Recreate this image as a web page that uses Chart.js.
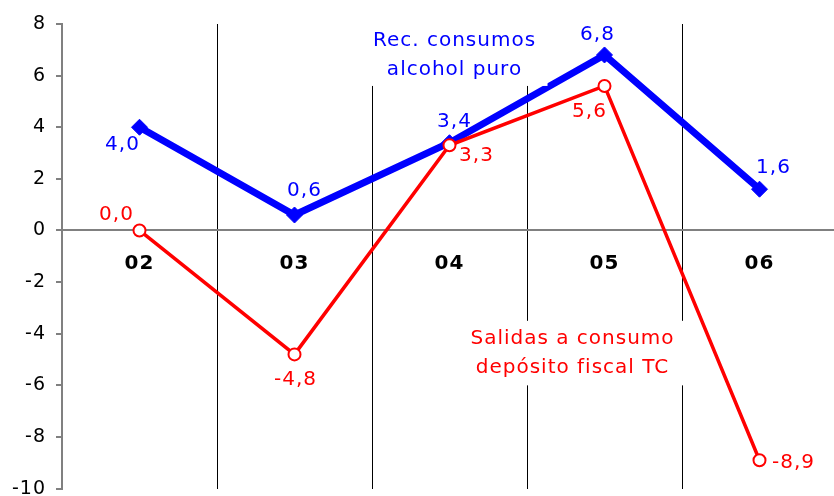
<!DOCTYPE html>
<html>
<head>
<meta charset="utf-8">
<script src="https://cdn.jsdelivr.net/npm/chart.js@4/dist/chart.umd.min.js"></script>
<style>
    html, body { margin: 0; padding: 0; background: #fff; overflow: hidden; }
    #wrap { width: 840px; height: 510px; }
</style>
</head>
<body>
<div id="wrap"><canvas id="myChart" width="840" height="510"></canvas></div>
<script>
// datos
const categorias = ['02', '03', '04', '05', '06'];
const recConsumos = [4.0, 0.6, 3.4, 6.8, 1.6];
const salidasConsumo = [0.0, -4.8, 3.3, 5.6, -8.9];
const yMin = -10;
const yMax = 8;
const yStep = 2;

const nombreRec = ['Rec. consumos', 'alcohol puro'];
const nombreSalidas = ['Salidas a consumo', 'depósito fiscal TC'];

const AZUL = '#0000ff';
const ROJO = '#ff0000';
const FUENTE = '"DejaVu Sans", Verdana, sans-serif';

function fmt(v) {
    return v.toFixed(1).replace('.', ',');
}

// where each value label sits relative to its point (px)
const offsetsRec = [[-17, 18], [10, -24], [5, -21], [-7, -20], [14, -21]];
const offsetsSal = [[-23, -16], [1, 25], [27, 10], [-15, 26], [34, 3]];

const extrasPlugin = {
    id: 'extras',
    beforeDraw(chart) {
        chart.ctx.letterSpacing = '1px';
    },
    afterDatasetsDraw(chart) {
        const ctx = chart.ctx;
        const x = chart.scales.x;
        const y = chart.scales.y;
        ctx.save();
        ctx.letterSpacing = '1px';

        // category labels right under the zero line
        ctx.fillStyle = '#000';
        ctx.font = 'bold 20px ' + FUENTE;
        ctx.textAlign = 'center';
        ctx.textBaseline = 'middle';
        categorias.forEach((c, i) => {
            ctx.fillText(c, x.getPixelForValue(i), y.getPixelForValue(0) + 33);
        });

        // series name boxes (white background hides the lines behind)
        function caja(lines, cx, topVal, x0, x1, y0, y1, color) {
            ctx.fillStyle = '#fff';
            ctx.fillRect(x0, y0, x1 - x0, y1 - y0);
            ctx.fillStyle = color;
            ctx.font = '20px ' + FUENTE;
            ctx.textAlign = 'center';
            const top = y.getPixelForValue(topVal);
            lines.forEach((l, k) => ctx.fillText(l, cx, top + k * 29));
        }
        const c3 = x.getPixelForValue(2);
        caja(nombreRec, c3 + 5, 7.35, c3 - 85, c3 + 98, y.getPixelForValue(yMax), y.getPixelForValue(5.6), AZUL);
        const c4 = x.getPixelForValue(3);
        caja(nombreSalidas, c4 - 32, -4.2, c4 - 142, c4 + 79, y.getPixelForValue(-3.5), y.getPixelForValue(-6.0), ROJO);

        // value labels
        ctx.font = '20px ' + FUENTE;
        const dibujar = (datos, offs, color) => {
            ctx.fillStyle = color;
            datos.forEach((v, i) => {
                const px = x.getPixelForValue(i);
                const py = y.getPixelForValue(v);
                ctx.textAlign = 'center';
                ctx.fillText(fmt(v), px + offs[i][0], py + offs[i][1]);
            });
        };
        dibujar(recConsumos, offsetsRec, AZUL);
        dibujar(salidasConsumo, offsetsSal, ROJO);
        ctx.restore();
    }
};

const ctx = document.getElementById('myChart').getContext('2d');
const myChart = new Chart(ctx, {
    type: 'line',
    data: {
        labels: categorias,
        datasets: [{
            label: nombreRec.join(' '),
            data: recConsumos,
            borderColor: AZUL,
            backgroundColor: AZUL,
            borderWidth: 7,
            pointStyle: 'rectRot',
            pointRadius: 8,
            pointBorderWidth: 1,
            pointBackgroundColor: AZUL,
            pointBorderColor: AZUL,
            tension: 0,
            order: 1
        }, {
            label: nombreSalidas.join(' '),
            data: salidasConsumo,
            borderColor: ROJO,
            backgroundColor: '#fff',
            borderWidth: 3.5,
            pointStyle: 'circle',
            pointRadius: 6,
            pointBorderWidth: 2,
            pointBackgroundColor: '#fff',
            pointBorderColor: ROJO,
            tension: 0,
            order: 0
        }]
    },
    options: {
        responsive: false,
        animation: false,
        events: [],
        layout: {
            autoPadding: false,
            padding: { top: 24, bottom: 8, left: 0, right: 3 }
        },
        plugins: {
            legend: { display: false },
            tooltip: { enabled: false },
            title: { display: false }
        },
        scales: {
            x: {
                offset: true,
                afterFit: function(scale) {
                    scale.height = 0;
                },
                grid: {
                    offset: true,
                    color: '#000',
                    lineWidth: 1,
                    drawTicks: false
                },
                border: { display: false },
                ticks: { display: false }
            },
            y: {
                min: yMin,
                max: yMax,
                afterFit: function(scale) {
                    scale.width = 62;
                },
                grid: {
                    color: function(c) {
                        return c.tick && c.tick.value === 0 ? '#808080' : 'rgba(0,0,0,0)';
                    },
                    lineWidth: 2,
                    tickColor: '#808080',
                    tickLength: 6
                },
                border: { color: '#808080', width: 2 },
                ticks: {
                    stepSize: yStep,
                    color: '#000',
                    padding: 10,
                    font: { family: FUENTE, size: 19 },
                    callback: function(value) {
                        return String(value);
                    }
                }
            }
        }
    },
    plugins: [extrasPlugin]
});
</script>
</body>
</html>
